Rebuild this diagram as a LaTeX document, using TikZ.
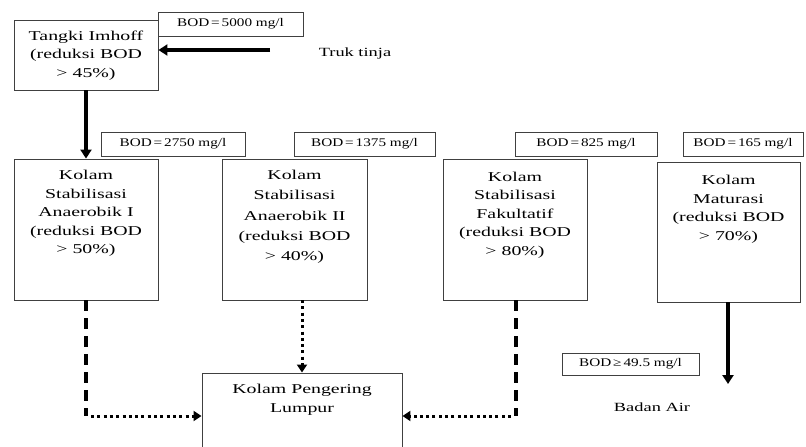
\documentclass[tikz,border=0pt]{standalone}
\usepackage{fontspec}
\setmainfont{Liberation Serif}[FakeStretch=1.47]
\newfontfamily\bodfont{Liberation Serif}[FakeStretch=1.3]
\usetikzlibrary{arrows.meta,positioning}

\tikzset{
  x=1pt, y=-1pt,
  box/.style={draw=black!75, line width=0.9pt, inner sep=0pt},
  bodbox/.style={draw=black!75, line width=0.9pt, inner sep=0pt,
    font=\bodfont\fontsize{11.7}{13}\selectfont},
  boxtext/.style={anchor=north, align=center, inner sep=0pt,
    font=\fontsize{13.5}{18.5}\selectfont},
  plain/.style={inner sep=0pt, font=\fontsize{12.5}{16}\selectfont},
  tip/.style={-{Triangle[length=9pt,width=11pt]}},
  smalltip/.style={-{Triangle[length=8pt,width=10pt]}},
  mainflow/.style={line width=3.8pt, tip},
  sludgedash/.style={line width=3.6pt, dash pattern=on 11pt off 7pt},
  sludgedot/.style={line width=3pt, dash pattern=on 3pt off 3.3pt, smalltip},
}

% a box given by its corner coordinates (in px-like units)
\newcommand{\pbox}[6]{%
  \node[#1, minimum width={#4-#2}, minimum height={#5-#3}] (#6)
    at ({(#2+#4)/2},{(#3+#5)/2}) {};}

\begin{document}
\begin{tikzpicture}
\useasboundingbox (0,0) rectangle (806,447);

% treatment units
\pbox{box}{14}{20}{158}{90}{imhoff}
\pbox{box}{14}{159}{158}{300}{anaer1}
\pbox{box}{222}{159}{367}{300}{anaer2}
\pbox{box}{443}{159}{587}{300}{fakul}
\pbox{box}{657}{162}{800}{302}{matur}
\pbox{box}{202}{373}{402}{460}{drying}

\node[boxtext] (imhofft) at ([yshift=-11pt]imhoff.north) {Tangki Imhoff\\(reduksi BOD\\> 45\%)};
\node[boxtext] (anaer1t) at ([yshift=-11.5pt]anaer1.north) {Kolam\\Stabilisasi\\Anaerobik I\\(reduksi BOD\\> 50\%)};
\node[boxtext, font=\fontsize{13.5}{20.3}\selectfont] (anaer2t) at ([yshift=-11.5pt]anaer2.north) {Kolam\\Stabilisasi\\Anaerobik II\\(reduksi BOD\\> 40\%)};
\node[boxtext] (fakult) at ([yshift=-13pt]fakul.north) {Kolam\\Stabilisasi\\Fakultatif\\(reduksi BOD\\> 80\%)};
\node[boxtext] (maturt) at ([yshift=-13.5pt]matur.north) {Kolam\\Maturasi\\(reduksi BOD\\> 70\%)};
\node[boxtext] (dryingt) at ([yshift=-11.5pt]drying.north) {Kolam Pengering\\Lumpur};

% BOD concentration labels
\node[bodbox, minimum width=145, minimum height=24] (bod0) at (230.5,24) {BOD\,=\,5000 mg/l};
\node[bodbox, minimum width=144, minimum height=24] (bod1) at (173,144) {BOD\,=\,2750 mg/l};
\node[bodbox, minimum width=141, minimum height=24] (bod2) at (364.5,144) {BOD\,=\,1375 mg/l};
\node[bodbox, minimum width=142, minimum height=24] (bod3) at (586,144) {BOD\,=\,825 mg/l};
\node[bodbox, minimum width=120, minimum height=24] (bod4) at (743,144) {BOD\,=\,165 mg/l};
\node[bodbox, minimum width=137, minimum height=22] (bod5) at (630.5,364) {BOD\,≥\,49.5 mg/l};

% inlet and outlet
\node[plain] (truk) at (355,53) {Truk tinja};
\node[plain] (badan) at (652,407) {Badan Air};
\coordinate (trukpt) at (270,50);
\coordinate (outpt) at (728,384);

% main liquid flow
\draw[mainflow] (trukpt) -- (trukpt -| imhoff.east);
\draw[mainflow] (imhoff.south) -- (anaer1.north);
\draw[mainflow] (matur.south -| outpt) -- (outpt);

% sludge lines to the drying bed
\coordinate (c1) at (86,416);
\coordinate (c3) at (516,416);
\draw[sludgedash] (anaer1.south -| c1) -- (c1);
\draw[sludgedot] ([xshift=5pt]c1) -- (c1 -| drying.west);
\draw[sludgedash] (fakul.south -| c3) -- (c3);
\draw[sludgedot] ([xshift=-5pt]c3) -- (c3 -| drying.east);
\coordinate (c2) at (302,300);
\draw[sludgedot] (c2) -- (drying.north -| c2);
\end{tikzpicture}
\end{document}
